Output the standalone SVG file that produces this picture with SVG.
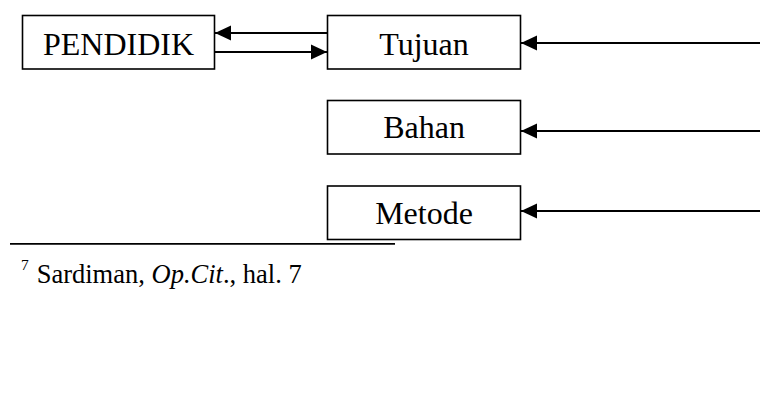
<svg xmlns="http://www.w3.org/2000/svg" width="760" height="399" viewBox="0 0 760 399">
<style>
.box{fill:#fff;stroke:#000;stroke-width:1.6}
.lbl{font-family:"Liberation Serif","Times New Roman",serif;font-size:32px;fill:#000;text-anchor:middle}
.con{stroke:#000;stroke-width:2.2;fill:none}
.fn{font-family:"Liberation Serif","Times New Roman",serif;fill:#000}
</style>
<defs>
<marker id="ah" markerUnits="userSpaceOnUse" markerWidth="16" markerHeight="16" viewBox="0 0 15 14" refX="15" refY="7" orient="auto">
<path d="M0,0 L15,7 L0,14 Z" fill="#000"/>
</marker>
</defs>
<rect width="760" height="399" fill="#fff"/>
<g id="connectors">
<line class="con" x1="327" y1="33" x2="215" y2="33" marker-end="url(#ah)"/>
<line class="con" x1="215" y1="52" x2="327" y2="52" marker-end="url(#ah)"/>
<line class="con" x1="760" y1="43" x2="521" y2="43" marker-end="url(#ah)"/>
<line class="con" x1="760" y1="131" x2="521" y2="131" marker-end="url(#ah)"/>
<line class="con" x1="760" y1="211" x2="521" y2="211" marker-end="url(#ah)"/>
</g>
<g id="pendidik">
<rect class="box" x="22.5" y="15.5" width="192" height="53.5"/>
<text class="lbl" x="118.5" y="54.5">PENDIDIK</text>
</g>
<g id="tujuan">
<rect class="box" x="327.5" y="15.5" width="193" height="53.5"/>
<text class="lbl" x="424" y="55">Tujuan</text>
</g>
<g id="bahan">
<rect class="box" x="327.5" y="100.5" width="193" height="53.5"/>
<text class="lbl" x="424" y="137.5">Bahan</text>
</g>
<g id="metode">
<rect class="box" x="327.5" y="186" width="193" height="53.5"/>
<text class="lbl" x="424" y="224">Metode</text>
</g>
<g id="footnote">
<line x1="10" y1="243.8" x2="395" y2="243.8" stroke="#000" stroke-width="1.8"/>
<text class="fn" x="21" y="269.5" font-size="15.5">7</text>
<text class="fn" x="36.7" y="282.5" font-size="26.5">Sardiman, <tspan font-style="italic">Op.Cit</tspan>., hal. 7</text>
</g>
</svg>
